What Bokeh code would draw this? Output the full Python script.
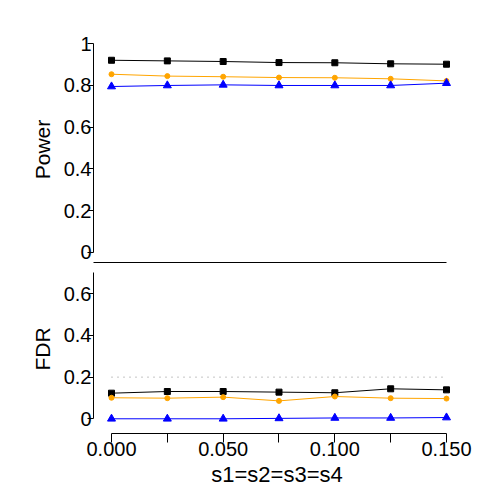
from bokeh.plotting import figure
from bokeh.layouts import column
from bokeh.models import LinearAxis, FixedTicker, NumeralTickFormatter, CustomJSTickFormatter, Range1d
from bokeh.embed import file_html
from bokeh.resources import INLINE

# ---- data ----
s_values = [0.0, 0.025, 0.05, 0.075, 0.1, 0.125, 0.15]

power_black = [0.921, 0.918, 0.915, 0.910, 0.909, 0.904, 0.902]
power_orange = [0.854, 0.845, 0.842, 0.838, 0.837, 0.832, 0.822]
power_blue = [0.795, 0.800, 0.803, 0.800, 0.800, 0.800, 0.811]

fdr_black = [0.123, 0.131, 0.131, 0.128, 0.125, 0.144, 0.139]
fdr_orange = [0.101, 0.099, 0.104, 0.086, 0.107, 0.099, 0.097]
fdr_blue = [0.000, 0.000, 0.000, 0.002, 0.004, 0.004, 0.006]

fdr_target = 0.2

power_ticks = [0, 0.2, 0.4, 0.6, 0.8, 1]
fdr_ticks = [0, 0.2, 0.4, 0.6]
x_major_ticks = [0, 0.05, 0.1, 0.15]
x_minor_ticks = [0.025, 0.075, 0.125]

x_title = "s1=s2=s3=s4"
power_title = "Power"
fdr_title = "FDR"

# ---- styling ----
FONT = "Liberation Sans"
TICK_FS = "20px"
TITLE_FS = "21px"
X0, X1 = -0.00806, 0.15627


def make_fig(height, y0, y1, top, bottom):
    p = figure(width=490, height=height,
               x_range=Range1d(X0, X1), y_range=Range1d(y0, y1),
               output_backend="svg", toolbar_location=None,
               x_axis_location=None, y_axis_location=None,
               min_border_left=93, min_border_right=30,
               min_border_top=top, min_border_bottom=bottom)
    p.grid.visible = False
    p.outline_line_color = None
    p.background_fill_color = "white"
    p.border_fill_color = "white"
    return p


def add_yaxis(p, ticks, bounds, label):
    ax = LinearAxis(ticker=FixedTicker(ticks=ticks),
                    formatter=CustomJSTickFormatter(code="return String(tick);"),
                    bounds=bounds, axis_label=label)
    ax.axis_line_color = "black"
    ax.major_tick_line_color = "black"
    ax.major_tick_out = 6
    ax.major_tick_in = 0
    ax.minor_tick_out = 0
    ax.minor_tick_in = 0
    ax.major_label_standoff = -4
    ax.axis_label_standoff = 7
    ax.major_label_text_font = FONT
    ax.major_label_text_font_size = TICK_FS
    ax.major_label_text_color = "black"
    ax.axis_label_text_font = FONT
    ax.axis_label_text_font_size = TITLE_FS
    ax.axis_label_text_font_style = "normal"
    ax.axis_label_text_color = "black"
    p.add_layout(ax, "left")
    return ax


def add_series(p, ys, color, marker, size):
    p.line(s_values, ys, line_color=color, line_width=1)
    p.scatter(s_values, ys, marker=marker, size=size,
              fill_color=color, line_color=color)


# ---- top panel: Power ----
top = make_fig(264, -0.0494, 1.035, 36, 2)
add_yaxis(top, power_ticks, (0, 1), power_title)
base = LinearAxis(ticker=FixedTicker(ticks=[]), bounds=(X0, s_values[-1]))
base.axis_line_color = "black"
base.major_tick_out = 0
base.major_tick_in = 0
base.minor_tick_out = 0
base.minor_tick_in = 0
base.major_label_standoff = 0
top.add_layout(base, "below")
add_series(top, power_black, "black", "square", 6)
add_series(top, power_orange, "orange", "circle", 5)
add_series(top, power_blue, "blue", "triangle", 8)

# ---- bottom panel: FDR ----
bot = make_fig(226, -0.0706, 0.7408, 0, 57)
add_yaxis(bot, fdr_ticks, (0, 0.7), fdr_title)
xa = LinearAxis(ticker=FixedTicker(ticks=x_major_ticks, minor_ticks=x_minor_ticks),
                formatter=NumeralTickFormatter(format="0.000"),
                bounds=(s_values[0], s_values[-1]), axis_label=x_title)
xa.axis_line_color = "black"
xa.major_tick_line_color = "black"
xa.minor_tick_line_color = "black"
xa.major_tick_out = 9
xa.major_tick_in = 0
xa.minor_tick_out = 9
xa.minor_tick_in = 0
xa.major_label_standoff = -1
xa.axis_label_standoff = 3
xa.major_label_text_font = FONT
xa.major_label_text_font_size = TICK_FS
xa.major_label_text_color = "black"
xa.axis_label_text_font = FONT
xa.axis_label_text_font_size = "22px"
xa.axis_label_text_font_style = "normal"
xa.axis_label_text_color = "black"
bot.add_layout(xa, "below")

bot.segment(x0=[s_values[0]], y0=[fdr_target], x1=[s_values[-1]], y1=[fdr_target],
            line_color="#888888", line_width=1, line_dash="1 5")
add_series(bot, fdr_black, "black", "square", 6)
add_series(bot, fdr_orange, "orange", "circle", 5)
add_series(bot, fdr_blue, "blue", "triangle", 8)

layout = column(top, bot, spacing=0)
open("out.html", "w").write(file_html(layout, INLINE))
